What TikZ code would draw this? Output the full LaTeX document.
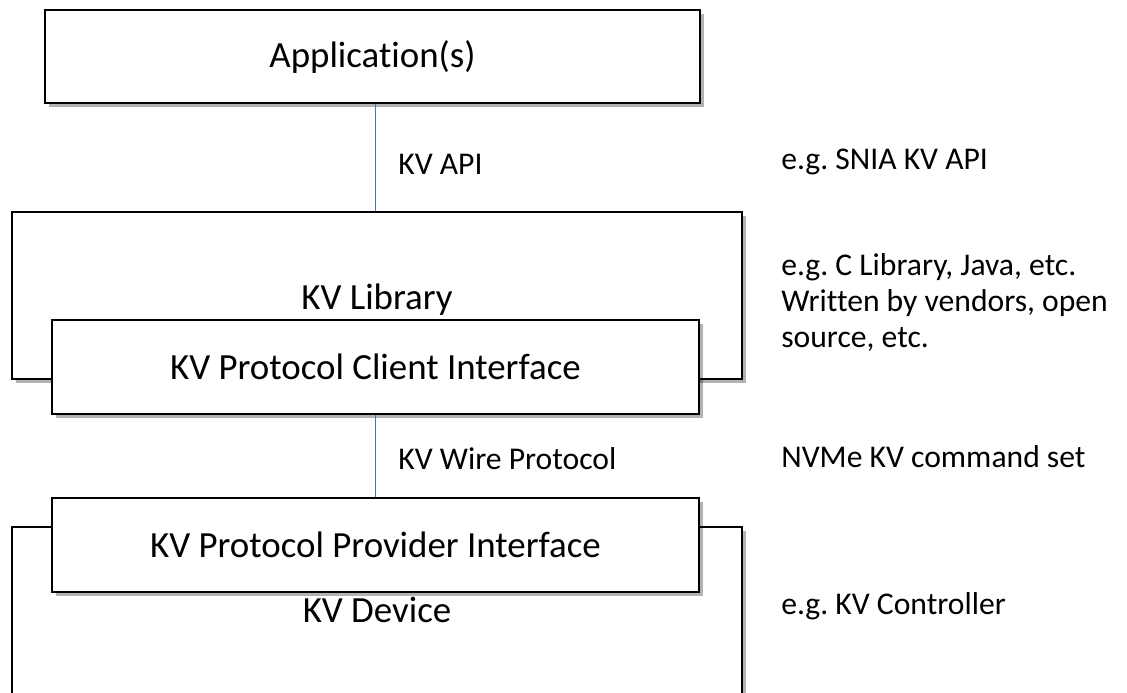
\documentclass[tikz,border=0pt]{standalone}
\usepackage{fontspec}
\setmainfont{Carlito}[Ligatures=NoCommon]
\usetikzlibrary{shadows}
\definecolor{linkblue}{RGB}{68,114,196}
\def\pxu{0.02cm}
\frenchspacing

\begin{document}
\begin{tikzpicture}[x=\pxu,y=-\pxu]
    \tikzstyle{layer}=[draw=black,line width=1.6pt,fill=white,inner sep=0pt,
        drop shadow={shadow xshift=2pt,shadow yshift=-2pt,opacity=0.3,fill=black}]
    \tikzstyle{boxtext}=[font=\fontsize{21}{25}\selectfont]
    \tikzstyle{iface}=[layer,boxtext,minimum width=647*\pxu,minimum height=94*\pxu]
    \tikzstyle{note}=[anchor=west,inner sep=0pt,align=left,font=\fontsize{18}{20.5}\selectfont]
    \tikzstyle{link}=[draw=linkblue,line width=0.8pt]

    \useasboundingbox (0,0) rectangle (1127,693);

    % Stack of layers
    \node[layer,boxtext,minimum width=655*\pxu,minimum height=93*\pxu] (app) at (372.5,56.5) {Application(s)};
    \node[layer,minimum width=730*\pxu,minimum height=167*\pxu] (lib) at (377,295.5) {};
    \node[boxtext] (libtext) at (377,300) {KV Library};
    \node[iface] (client) at (375.5,367) {KV Protocol Client Interface};
    \node[layer,minimum width=730*\pxu,minimum height=240*\pxu] (device) at (377,647) {};
    \node[iface] (provider) at (375.5,545) {KV Protocol Provider Interface};
    \node[boxtext] (devtext) at (377,610) {KV Device};

    % Interfaces between the layers
    \draw[link] (app.south -| client.south) -- (lib.north -| client.south);
    \draw[link] (client.south) -- (provider.north);
    \node[note] (apitext) at (398,164) {KV API};
    \node[note] (wiretext) at (398,459) {KV Wire Protocol};

    % Notes on the right
    \node[note] (apinote) at (781,162) {e.g. SNIA KV API};
    \node[note] (libnote) at (781,303) {e.g. C Library, Java, etc.\\Written by vendors, open\\source, etc.};
    \node[note] (wirenote) at (781,457) {NVMe KV command set};
    \node[note] (devnote) at (781,606) {e.g. KV Controller};
\end{tikzpicture}
\end{document}
